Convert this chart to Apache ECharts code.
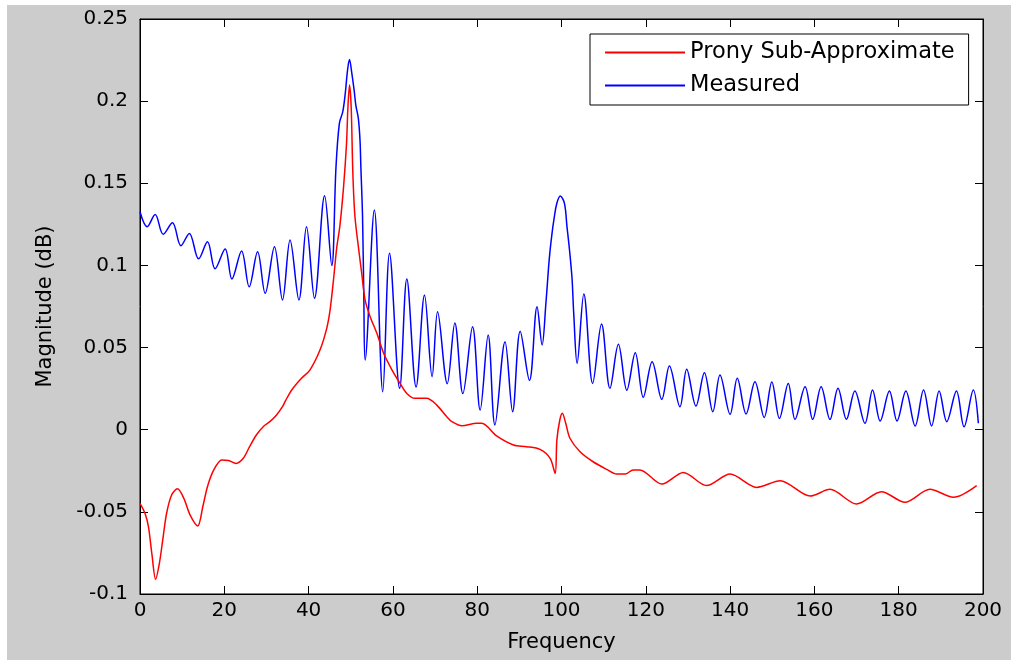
<!DOCTYPE html>
<html><head><meta charset="utf-8">
<script src="https://cdn.jsdelivr.net/npm/echarts@6/dist/echarts.min.js"></script>
<style>html,body{margin:0;padding:0;background:#fff;overflow:hidden;width:1011px;height:660px}
#c{position:absolute;left:7px;top:5px;width:1004px;height:655px}</style>
</head><body><div id="c"></div>
<script>
const xTickLabels = ['0','20','40','60','80','100','120','140','160','180','200'];
const yTickLabels = ['-0.1','-0.05','0','0.05','0.1','0.15','0.2','0.25'];
const seriesNames = ['Prony Sub-Approximate','Measured'];

const measuredFreq = [0,1.7,3.6,5.5,7.7,9.7,11.7,13.9,16.0,17.8,20.2,21.8,24.1,25.9,27.9,29.7,31.9,33.8,35.6,37.7,39.5,41.4,43.8,45.5,
46.5,47.3,48.1,48.7,49.2,49.7,50.2,50.8,51.2,51.8,52.2,52.4,52.8,53.1,53.4,
55.6,57.6,59.2,61.6,63.3,65.5,67.5,69.3,70.6,72.9,74.7,76.6,78.9,80.7,82.6,84.2,86.6,88.4,90.2,92.4,94.2,95.4,
96.3,97.1,97.7,98.3,98.9,99.7,100.7,101.3,101.9,102.5,102.9,103.7,
105.3,107.4,109.5,111.5,113.5,115.5,117.5,119.4,121.5,123.8,125.6,128.1,129.7,131.9,133.9,135.9,137.6,140.0,141.7,143.8,145.9,148.1,149.9,
151.7,153.8,155.4,157.8,159.6,161.6,163.7,165.6,167.6,169.6,172.0,173.8,175.6,177.8,179.6,181.7,183.9,185.9,187.8,189.6,191.4,193.7,195.5,197.7,198.9];
const measuredMag = [0.1327,0.1236,0.131,0.119,0.126,0.112,0.1195,0.104,0.1144,0.098,0.110,0.0917,0.1088,0.087,0.1083,0.083,0.1114,0.079,0.1155,0.079,0.1236,0.080,0.1424,0.100,
0.160,0.1865,0.1935,0.2047,0.218,0.2254,0.218,0.2067,0.1976,0.1895,0.176,0.160,0.1296,0.081,0.0424,
0.1337,0.0231,0.1074,0.0252,0.0917,0.026,0.082,0.0323,0.0718,0.028,0.065,0.022,0.0627,0.012,0.0576,0.0029,0.0536,0.011,0.060,0.030,0.0749,0.0516,
0.077,0.104,0.1185,0.1296,0.1378,0.1422,0.1378,0.1236,0.1094,0.092,0.0708,0.0404,
0.0826,0.0282,0.0643,0.0252,0.052,0.024,0.0469,0.0197,0.0414,0.0185,0.0388,0.014,0.0368,0.0144,0.0347,0.011,0.0333,0.0094,0.0313,0.0096,0.0292,0.0075,0.029,
0.0069,0.0282,0.0063,0.0262,0.0063,0.0262,0.0063,0.0252,0.0063,0.0236,0.0039,0.0242,0.0053,0.0236,0.0053,0.0236,0.0023,0.0242,0.0023,0.0236,0.0049,0.0236,0.0018,0.0242,0.0039];

const pronyFreq = [0,1.2,2.0,2.8,3.7,4.6,5.4,6.3,7.5,8.9,10.4,11.9,13.7,14.9,16.0,17.5,19.4,21.0,22.8,24.5,26.0,27.6,29.4,30.8,32.4,33.8,34.6,36.0,38.2,40.3,42.7,44.3,45.1,45.9,46.7,47.4,48.3,49.0,49.3,49.7,50.1,50.5,51.0,52.0,52.6,53.4,54.6,56.2,57.8,59.8,61.7,63.3,65.2,68.0,70.4,72.8,74.0,76.4,79.9,81.1,84.6,88.6,91.7,94.9,97.3,98.5,98.9,99.6,100.2,101.0,102.0,104.4,107.5,110.7,113.1,115.1,117.0,118.6,123.8,128.9,134.4,140.0,146.3,151.9,159.0,163.7,170.0,175.9,181.5,187.4,193.0,198.5];
const pronyMag = [-0.0448,-0.051,-0.059,-0.0752,-0.091,-0.0813,-0.067,-0.051,-0.0397,-0.036,-0.0418,-0.052,-0.0586,-0.0469,-0.0347,-0.0245,-0.0184,-0.0188,-0.0205,-0.0174,-0.0103,-0.0032,0.0023,0.0049,0.009,0.014,0.018,0.0242,0.031,0.0363,0.0485,0.0617,0.0729,0.0911,0.1114,0.1236,0.148,0.1743,0.1946,0.2098,0.1966,0.156,0.1296,0.1074,0.0952,0.079,0.0688,0.0587,0.0465,0.0363,0.0282,0.0221,0.0191,0.0191,0.015,0.0079,0.0049,0.0024,0.0039,0.0039,-0.0038,-0.0093,-0.0103,-0.012,-0.0174,-0.0266,-0.0063,0.0059,0.010,0.0039,-0.0052,-0.0134,-0.0195,-0.0241,-0.027,-0.027,-0.0245,-0.0245,-0.0331,-0.026,-0.034,-0.027,-0.0351,-0.031,-0.0404,-0.0363,-0.0452,-0.0377,-0.0442,-0.0363,-0.0411,-0.034];

const zip = (a, b) => a.map((v, i) => [v, b[i]]);
const FONT = 'DejaVu Sans';
const tickCommon = {inside: true, length: 8, lineStyle: {color: '#000', width: 1}};
const lineCommon = {onZero: false, lineStyle: {color: '#000', width: 1}};

const chart = echarts.init(document.getElementById('c'), null, {renderer: 'canvas'});
chart.setOption({
  animation: false,
  backgroundColor: '#cccccc',
  grid: {left: 133, top: 14, right: 28, bottom: 66, show: true, backgroundColor: '#ffffff', borderColor: '#000', borderWidth: 1},
  legend: {
    data: seriesNames, orient: 'vertical', left: 583, top: 29,
    icon: 'rect', itemWidth: 80, itemHeight: 2, itemGap: 10,
    padding: [7, 14, 8, 15], borderColor: '#000', borderWidth: 1, backgroundColor: '#ffffff',
    textStyle: {fontFamily: FONT, fontSize: 22.5, color: '#000', lineHeight: 22}
  },
  xAxis: [{
    type: 'value', min: 0, max: 200, interval: 20, position: 'bottom',
    axisLine: lineCommon, axisTick: tickCommon, splitLine: {show: false},
    axisLabel: {color: '#000', fontFamily: FONT, fontSize: 20, margin: 7,
      formatter: v => xTickLabels[Math.round(v / 20)]},
    name: 'Frequency', nameLocation: 'middle', nameGap: 38,
    nameTextStyle: {fontFamily: FONT, fontSize: 21, color: '#000'}
  }, {
    type: 'value', min: 0, max: 200, interval: 20, position: 'top',
    axisLine: lineCommon, axisTick: tickCommon, splitLine: {show: false}, axisLabel: {show: false}
  }],
  yAxis: [{
    type: 'value', min: -0.1, max: 0.25, interval: 0.05, position: 'left',
    axisLine: lineCommon, axisTick: tickCommon, splitLine: {show: false},
    axisLabel: {color: '#000', fontFamily: FONT, fontSize: 20, margin: 12,
      formatter: v => yTickLabels[Math.round((v + 0.1) / 0.05)]},
    name: 'Magnitude (dB)', nameLocation: 'middle', nameGap: 84, nameRotate: 90,
    nameTextStyle: {fontFamily: FONT, fontSize: 21, color: '#000'}
  }, {
    type: 'value', min: -0.1, max: 0.25, interval: 0.05, position: 'right',
    axisLine: lineCommon, axisTick: tickCommon, splitLine: {show: false}, axisLabel: {show: false}
  }],
  series: [{
    name: seriesNames[1], type: 'line', data: zip(measuredFreq, measuredMag),
    symbol: 'none', showSymbol: false, smooth: 0.35, xAxisIndex: 0, yAxisIndex: 0,
    lineStyle: {color: '#0000ff', width: 1.5}, itemStyle: {color: '#0000ff'}
  }, {
    name: seriesNames[0], type: 'line', data: zip(pronyFreq, pronyMag),
    symbol: 'none', showSymbol: false, smooth: 0.3, xAxisIndex: 0, yAxisIndex: 0,
    lineStyle: {color: '#ff0000', width: 1.5}, itemStyle: {color: '#ff0000'}
  }]
});
</script></body></html>
